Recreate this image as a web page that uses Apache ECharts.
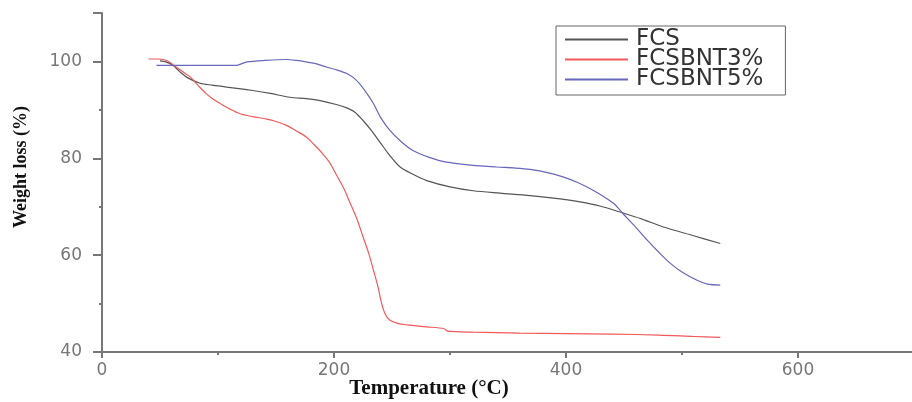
<!DOCTYPE html>
<html>
<head>
<meta charset="utf-8">
<script src="https://cdn.jsdelivr.net/npm/echarts@6/dist/echarts.min.js"></script>
<style>html,body{margin:0;padding:0;background:#fff;}#c{width:912px;height:402px;}</style>
</head>
<body>
<div id="c"></div>
<script>
const seriesNames = ['FCS', 'FCSBNT3%', 'FCSBNT5%'];

const fcsTemp   = [50, 55, 61, 67, 74, 84.5, 95, 107.5, 118, 130, 145, 162, 176, 188, 202, 211, 218, 225, 232, 240, 248, 257, 268, 280, 300, 320, 343, 369, 395, 412, 430, 446.5, 465, 484, 510, 533];
const fcsWeight = [100.1, 99.9, 99.2, 97.9, 96.6, 95.5, 95.1, 94.7, 94.4, 94.0, 93.4, 92.6, 92.3, 91.9, 91.1, 90.4, 89.5, 87.8, 85.8, 83.2, 80.6, 78.2, 76.7, 75.4, 74.1, 73.3, 72.8, 72.3, 71.6, 71.0, 70.1, 68.9, 67.5, 65.8, 64.0, 62.4];

const bnt3Temp   = [40, 48, 53, 58, 63, 70, 76, 83, 90, 96, 102, 110, 119, 130, 142, 150, 159, 168, 176, 183, 190, 196, 202, 208, 214, 220, 225, 230, 234, 238, 241, 244, 248, 255, 263, 280, 295, 298, 320, 360, 400, 440, 480, 510, 533];
const bnt3Weight = [100.5, 100.5, 100.4, 99.9, 99.0, 97.8, 96.8, 95.0, 93.3, 92.2, 91.3, 90.2, 89.2, 88.6, 88.1, 87.6, 86.8, 85.6, 84.4, 82.8, 81.0, 79.2, 76.6, 74.0, 70.7, 67.3, 63.8, 60.3, 56.9, 53.4, 50.1, 47.9, 46.6, 45.9, 45.6, 45.2, 44.8, 44.3, 44.1, 43.9, 43.8, 43.7, 43.5, 43.2, 43.0];

const bnt5Temp   = [47, 60, 80, 100, 116, 120, 125, 140, 159, 168, 176, 185, 194, 203, 211, 217, 222, 228, 234, 240, 248, 258, 268, 282, 297, 318, 340, 355, 369, 385, 398, 410, 421, 431, 441, 449, 460, 470, 480, 490, 500, 513, 522, 533];
const bnt5Weight = [99.2, 99.2, 99.2, 99.2, 99.2, 99.5, 99.9, 100.2, 100.4, 100.2, 99.9, 99.5, 98.8, 98.2, 97.5, 96.6, 95.4, 93.5, 91.3, 88.5, 85.8, 83.4, 81.6, 80.2, 79.2, 78.6, 78.2, 78.0, 77.7, 77.0, 76.1, 75.0, 73.7, 72.3, 70.7, 68.6, 65.8, 63.1, 60.6, 58.3, 56.5, 54.8, 54.0, 53.8];

const xTicks = [0, 200, 400, 600];
const yTicks = [40, 60, 80, 100];

const colors = ['#555555', '#f25a5a', '#6767bb'];

function pairs(xs, ys) { return xs.map((x, i) => [x, ys[i]]); }

const chart = echarts.init(document.getElementById('c'));
chart.setOption({
  animation: false,
  backgroundColor: '#ffffff',
  grid: { left: 102, top: 13, width: 812, height: 339, containLabel: false, outerBoundsMode: 'none' },
  xAxis: {
    type: 'value', min: 0, max: 700, interval: 200,
    axisLine: { show: true, lineStyle: { color: '#777', width: 2 } },
    axisTick: { show: true, length: 6, lineStyle: { color: '#777', width: 2 } },
    minorTick: { show: true, splitNumber: 2, length: 3, lineStyle: { color: '#777', width: 2 } },
    splitLine: { show: false },
    axisLabel: { margin: 10, fontFamily: 'DejaVu Sans', fontSize: 17, color: '#777', showMaxLabel: false,
      formatter: v => xTicks.includes(v) ? String(v) : '' }
  },
  yAxis: {
    type: 'value', min: 40, max: 110, interval: 20,
    axisLine: { show: true, lineStyle: { color: '#777', width: 2 } },
    axisTick: { show: true, length: 9, lineStyle: { color: '#777', width: 2 } },
    minorTick: { show: true, splitNumber: 2, length: 3, lineStyle: { color: '#777', width: 2 } },
    splitLine: { show: false },
    axisLabel: { margin: 20, fontFamily: 'DejaVu Sans', fontSize: 17, color: '#777', showMaxLabel: false,
      formatter: v => yTicks.includes(v) ? String(v) : '' }
  },
  graphic: [{
    type: 'text', x: 21, y: 167, rotation: Math.PI / 2,
    style: { text: 'Weight loss (%)', fontFamily: 'Liberation Serif', fontWeight: 'bold', fontSize: 18, fill: '#111',
      align: 'center', verticalAlign: 'middle' }
  }, {
    type: 'text', x: 429, y: 389,
    style: { text: 'Temperature (°C)', fontFamily: 'Liberation Serif', fontWeight: 'bold', fontSize: 21, fill: '#111',
      align: 'center', verticalAlign: 'middle' }
  }],
  legend: {
    orient: 'vertical', left: 556, top: 26,
    padding: [2, 22, 4, 9],
    itemWidth: 63, itemHeight: 2, itemGap: -3,
    icon: 'rect',
    borderColor: '#666', borderWidth: 1,
    textStyle: { fontFamily: 'DejaVu Sans', fontSize: 23, lineHeight: 20, color: '#333', padding: [0, 0, 0, 3] },
    data: seriesNames
  },
  series: [
    { name: seriesNames[0], type: 'line', data: pairs(fcsTemp, fcsWeight), showSymbol: false, smooth: 0.3, color: colors[0], lineStyle: { width: 1.2, color: colors[0] } },
    { name: seriesNames[1], type: 'line', data: pairs(bnt3Temp, bnt3Weight), showSymbol: false, smooth: 0.3, color: colors[1], lineStyle: { width: 1.2, color: colors[1] } },
    { name: seriesNames[2], type: 'line', data: pairs(bnt5Temp, bnt5Weight), showSymbol: false, smooth: 0.3, color: colors[2], lineStyle: { width: 1.2, color: colors[2] } }
  ]
});
</script>
</body>
</html>
